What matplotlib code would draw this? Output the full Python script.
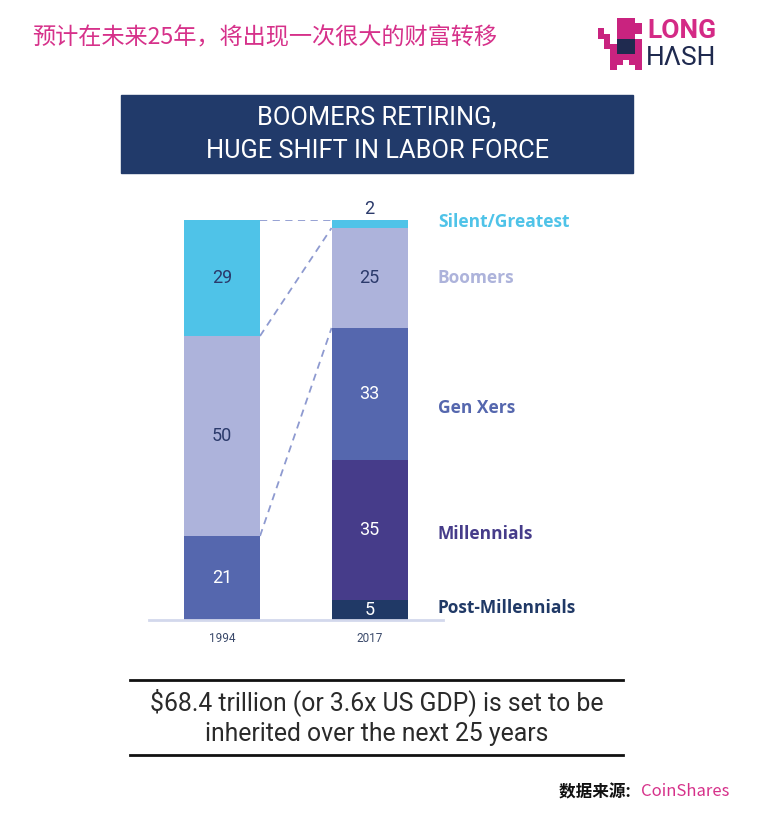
import matplotlib
matplotlib.use("Agg")
import matplotlib.pyplot as plt
from matplotlib.patches import Rectangle
import numpy as np

plt.rcParams['font.family'] = ['Open Sans', 'Noto Sans CJK SC', 'DejaVu Sans']

# data
years = ['1994', '2017']
groups = ['Post-Millennials', 'Millennials', 'Gen Xers', 'Boomers', 'Silent/Greatest']
values_1994 = [0, 0, 21, 50, 29]
values_2017 = [5, 35, 33, 25, 2]
colors = ['#203966', '#463C8A', '#5567AE', '#ADB3DB', '#4FC3E8']
num_colors = ['white', 'white', 'white', '#2B3A6B', '#2B3A6B']
connect_groups = ['Gen Xers', 'Boomers', 'Silent/Greatest']
# small nudges of the right-hand labels (in value units)
label_nudge = [0.5, -1.0, -3.5, 0.0, 0.5]

W, H = 758, 824
fig = plt.figure(figsize=(W / 100, H / 100), dpi=100)


def fx(x):
    return x / W


def fy(y):
    return 1 - y / H


# top headline + logo
fig.text(fx(32), fy(38), '预计在未来25年，将出现一次很大的财富转移', color='#D6318A',
         fontsize=16.7, family=['Noto Sans CJK SC', 'DejaVu Sans'], va='center', ha='left')
fig.text(fx(647), fy(31), 'LONG', color='#D42A86', fontsize=19, fontweight='bold',
         family='Roboto', va='center', ha='left')
fig.text(fx(646), fy(58), 'HΛSH', color='#1F2A4F', fontsize=19, family='Roboto',
         va='center', ha='left')

# pixel logo
mask = ["...PPP..",
        "...PPPP.",
        "P..PPPP.",
        "PP.PPP..",
        ".P.DDDP.",
        ".PPDDDP.",
        "..PDDDP.",
        "..PPPPP.",
        "..PP.PP.",
        "..P...P."]
img = np.ones((len(mask), len(mask[0]), 4))
img[..., 3] = 0
for i, row in enumerate(mask):
    for j, c in enumerate(row):
        if c == 'P':
            img[i, j] = matplotlib.colors.to_rgba('#C9237F')
        elif c == 'D':
            img[i, j] = matplotlib.colors.to_rgba('#1F2A4F')
lax = fig.add_axes([fx(598), fy(70), 50 / W, 52 / H])
lax.imshow(img, interpolation='nearest', aspect='auto')
lax.axis('off')

# header box
fig.patches.append(Rectangle((fx(121), fy(173)), (633 - 121) / W, (173 - 95) / H,
                             transform=fig.transFigure, color='#213A6A', zorder=0))
fig.text(fx(377), fy(134), 'BOOMERS RETIRING,\nHUGE SHIFT IN LABOR FORCE', color='white',
         fontsize=18.3, family='Roboto', ha='center', va='center', linespacing=1.5)

# bar chart
ax = fig.add_axes([fx(149), fy(620), (443 - 149) / W, 400 / H])
x = np.arange(len(years))
bw = 0.515
b94 = np.cumsum([0] + values_1994[:-1])
b17 = np.cumsum([0] + values_2017[:-1])
for k, g in enumerate(groups):
    for xi, vals, bots in [(0, values_1994, b94), (1, values_2017, b17)]:
        v = vals[k]
        if v == 0:
            continue
        ax.bar(x[xi], v, bw, bottom=bots[k], color=colors[k], edgecolor='none', zorder=2)
        if v >= 5:
            ax.text(x[xi], bots[k] + v / 2, str(v), ha='center', va='center',
                    color=num_colors[k], fontsize=13, family='Roboto')
        else:
            ax.text(x[xi], bots[k] + v + 0.6, str(v), ha='center', va='bottom',
                    color='#2B3A6B', fontsize=13, family='Roboto')

# dashed connectors between cumulative tops
for g in connect_groups:
    k = groups.index(g)
    y0 = b94[k] + values_1994[k]
    y1 = b17[k] + values_2017[k]
    ax.plot([x[0] + bw / 2, x[1] - bw / 2], [y0, y1], color='#8E9AD0', lw=1.3,
            ls=(0, (4, 3)), zorder=1)

# group labels on the right
for k, g in enumerate(groups):
    ymid = b17[k] + values_2017[k] / 2 + label_nudge[k]
    ax.text(1.464, ymid, g, color=colors[k], fontsize=12.5, fontweight='bold',
            ha='left', va='center', clip_on=False)

ax.set_xlim(-0.495, 1.498)
ax.set_ylim(0, 100)
for s in ['top', 'right', 'left']:
    ax.spines[s].set_visible(False)
ax.spines['bottom'].set_color('#D3D8EC')
ax.spines['bottom'].set_linewidth(2)
ax.set_yticks([])
ax.set_xticks(x)
ax.set_xticklabels(years, fontsize=8.5, color='#3B4A6B', family='Roboto')
ax.tick_params(axis='x', length=0, pad=9)
ax.patch.set_alpha(0)

# bottom callout
for yy in [680, 755]:
    fig.add_artist(plt.Line2D([fx(130), fx(623)], [fy(yy), fy(yy)], color='#111111', lw=2))
fig.text(fx(377), fy(717), '$68.4 trillion (or 3.6x US GDP) is set to be\ninherited over the next 25 years',
         ha='center', va='center', fontsize=17.8, color='#2A2A2A', family='Roboto',
         linespacing=1.35)

# source
fig.text(fx(559), fy(792), '数据来源: ', ha='left', va='center', fontsize=12,
         family=['Noto Sans CJK SC', 'DejaVu Sans'], color='#111111', fontweight='bold')
fig.text(fx(641), fy(792), 'CoinShares', ha='left', va='center', fontsize=12,
         family=['Noto Sans CJK SC', 'DejaVu Sans'], color='#D6318A')

fig.savefig('out.png', dpi=100)
